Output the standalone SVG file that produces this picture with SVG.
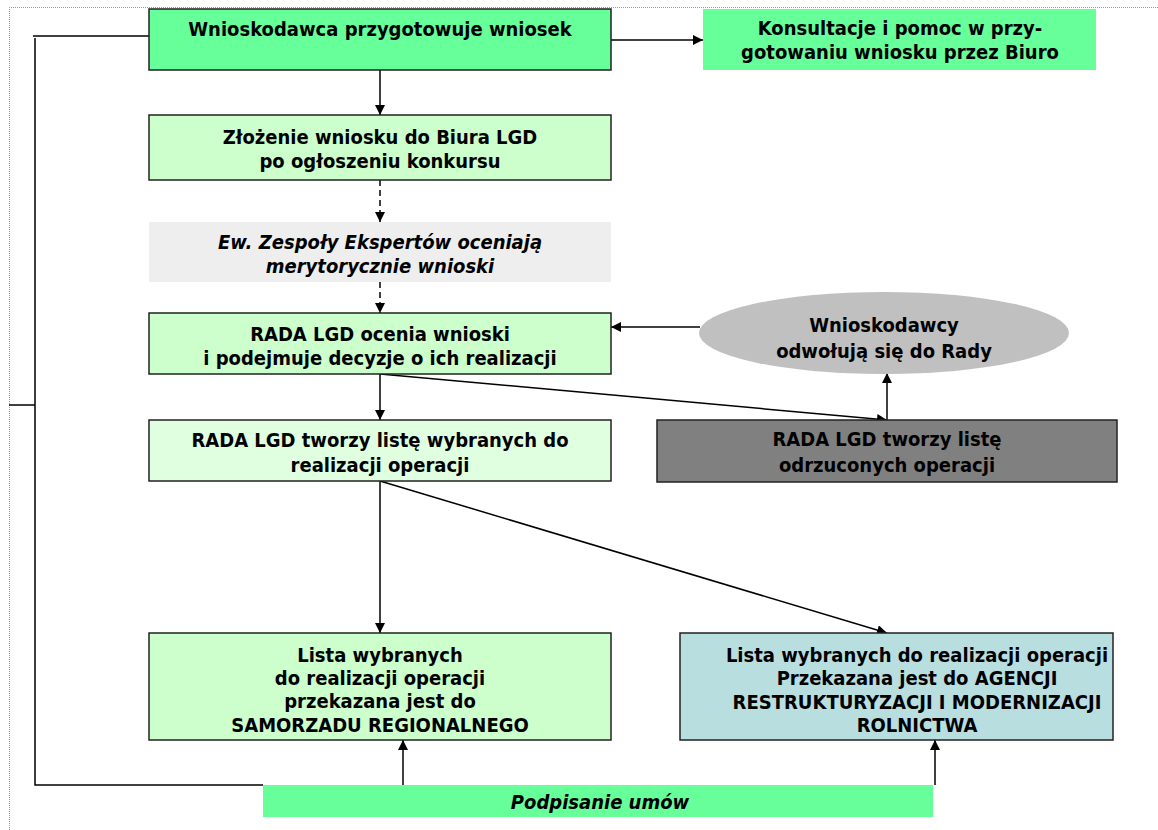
<svg xmlns="http://www.w3.org/2000/svg" width="1158" height="830" viewBox="0 0 1158 830">
<defs>
<marker id="ah" viewBox="0 0 10 10" refX="10" refY="5" markerWidth="10" markerHeight="10" markerUnits="userSpaceOnUse" orient="auto">
<path d="M0,0 L10,5 L0,10 z" fill="#000"/>
</marker>
<style>
.t{font-family:"DejaVu Sans Condensed","DejaVu Sans",sans-serif;font-weight:bold;font-size:20px;fill:#000;text-anchor:middle}
.i{font-style:italic}
.b{stroke:#222;stroke-width:1.5}
.c{stroke:#000;stroke-width:1.5;fill:none}
.a{marker-end:url(#ah)}
.d{stroke-dasharray:6,4}
</style>
</defs>
<rect width="1158" height="830" fill="#fff"/>
<path d="M9.5,830 V7.5 H1158" fill="none" stroke="#999" stroke-width="1" stroke-dasharray="1,1"/>

<g id="connectors">
<path class="c" d="M149,36 H33"/>
<path class="c" d="M35,38 V785 H263"/>
<path class="c" d="M9,405 H35"/>
<path class="c a" d="M611,40 H703"/>
<path class="c a" d="M380,70 V115"/>
<path class="c a d" d="M380,180 V222"/>
<path class="c a d" d="M380,282 V313"/>
<path class="c a" d="M380,374 V420"/>
<path class="c a" d="M380,374 L887,420"/>
<path class="c a" d="M887,420 V373"/>
<path class="c a" d="M700,327 H611"/>
<path class="c a" d="M380,481 V633"/>
<path class="c a" d="M380,481 L887,633"/>
<path class="c a" d="M403,785 V740"/>
<path class="c a" d="M935,785 V740"/>
</g>

<g id="n1">
<rect class="b" x="149" y="9" width="462" height="61" fill="#66FF99"/>
<text class="t" x="380" y="36">Wnioskodawca przygotowuje wniosek</text>
</g>
<g id="n2">
<rect x="703" y="9" width="393" height="61" fill="#66FF99"/>
<text class="t" x="900" y="35">Konsultacje i pomoc w przy-</text>
<text class="t" x="900" y="59">gotowaniu wniosku przez Biuro</text>
</g>
<g id="n3">
<rect class="b" x="149" y="115" width="462" height="65" fill="#CCFFCC"/>
<text class="t" x="380" y="144">Złożenie wniosku do Biura LGD</text>
<text class="t" x="380" y="168">po ogłoszeniu konkursu</text>
</g>
<g id="n4">
<rect x="149" y="222" width="462" height="60" fill="#EEEEEE"/>
<text class="t i" x="380" y="249">Ew. Zespoły Ekspertów oceniają</text>
<text class="t i" x="380" y="273">merytorycznie wnioski</text>
</g>
<g id="n5">
<rect class="b" x="149" y="313" width="462" height="61" fill="#CCFFCC"/>
<text class="t" x="380" y="341">RADA LGD ocenia wnioski</text>
<text class="t" x="380" y="365">i podejmuje decyzje o ich realizacji</text>
</g>
<g id="n6">
<ellipse cx="884" cy="333" rx="185" ry="41" fill="#C0C0C0"/>
<text class="t" x="884" y="332">Wnioskodawcy</text>
<text class="t" x="884" y="358">odwołują się do Rady</text>
</g>
<g id="n7">
<rect class="b" x="149" y="420" width="462" height="61" fill="#E0FFE0"/>
<text class="t" x="380" y="447">RADA LGD tworzy listę wybranych do</text>
<text class="t" x="380" y="472">realizacji operacji</text>
</g>
<g id="n8">
<rect class="b" x="657" y="420" width="460" height="62" fill="#808080"/>
<text class="t" x="887" y="446">RADA LGD tworzy listę</text>
<text class="t" x="887" y="472">odrzuconych operacji</text>
</g>
<g id="n9">
<rect class="b" x="149" y="633" width="462" height="107" fill="#CCFFCC"/>
<text class="t" x="380" y="662">Lista wybranych</text>
<text class="t" x="380" y="685">do realizacji operacji</text>
<text class="t" x="380" y="708">przekazana jest do</text>
<text class="t" x="380" y="732">SAMORZADU REGIONALNEGO</text>
</g>
<g id="n10">
<rect class="b" x="680" y="633" width="433" height="107" fill="#B8DEE0"/>
<text class="t" x="917" y="662">Lista wybranych do realizacji operacji</text>
<text class="t" x="917" y="685">Przekazana jest do AGENCJI</text>
<text class="t" x="917" y="709">RESTRUKTURYZACJI I MODERNIZACJI</text>
<text class="t" x="917" y="732">ROLNICTWA</text>
</g>
<g id="n11">
<rect x="263" y="785" width="670" height="32" fill="#66FF99"/>
<text class="t i" x="600" y="809">Podpisanie umów</text>
</g>
</svg>
